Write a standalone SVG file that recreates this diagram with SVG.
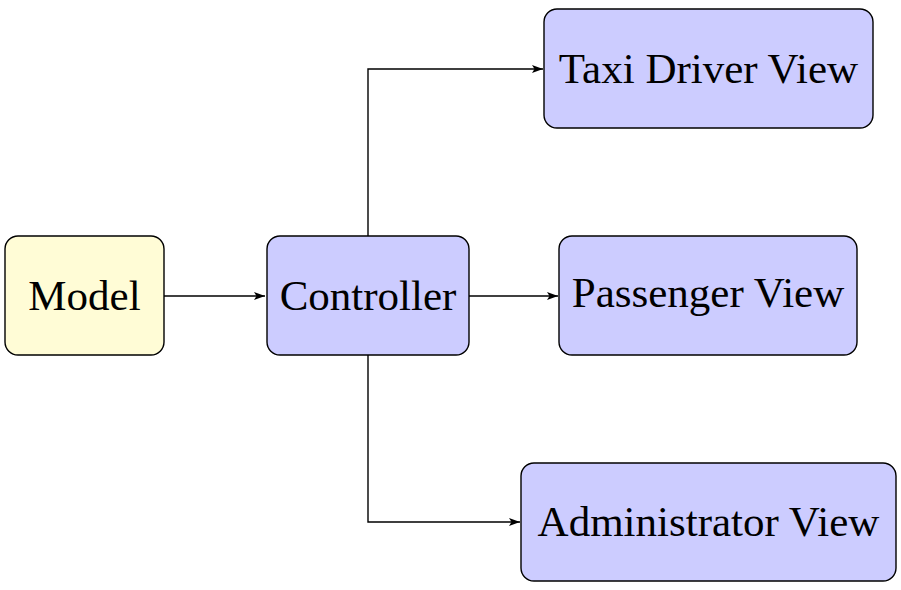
<svg xmlns="http://www.w3.org/2000/svg" width="901" height="590" viewBox="0 0 901 590">
<style>
.box{stroke:#000;stroke-width:1.4}
.blue{fill:#ccccff}
.yellow{fill:#fffcd6}
.lbl{font-family:"Liberation Serif","DejaVu Serif",serif;font-size:43px;fill:#000;text-anchor:middle}
.conn{fill:none;stroke:#000;stroke-width:1.4}
</style>
<defs>
<marker id="ah" markerWidth="12" markerHeight="8" refX="11" refY="4" orient="auto" markerUnits="userSpaceOnUse">
<path d="M0,0 L11,4 L0,8 L2.5,4 Z" fill="#000"/>
</marker>
</defs>
<rect width="901" height="590" fill="#fff"/>
<g id="connectors">
<path class="conn" d="M164,296 H265" marker-end="url(#ah)"/>
<path class="conn" d="M469,296 H558" marker-end="url(#ah)"/>
<path class="conn" d="M368,236 V69 H543" marker-end="url(#ah)"/>
<path class="conn" d="M368,355 V522 H520" marker-end="url(#ah)"/>
</g>
<g id="model">
<rect class="box yellow" x="5" y="236" width="159" height="119" rx="13"/>
<text class="lbl" x="84.5" y="310">Model</text>
</g>
<g id="controller">
<rect class="box blue" x="267" y="236" width="202" height="119" rx="13"/>
<text class="lbl" x="368" y="310">Controller</text>
</g>
<g id="taxi">
<rect class="box blue" x="544" y="9" width="329" height="119" rx="13"/>
<text class="lbl" x="708.5" y="83">Taxi Driver View</text>
</g>
<g id="passenger">
<rect class="box blue" x="559" y="236" width="298" height="119" rx="13"/>
<text class="lbl" x="708" y="307">Passenger View</text>
</g>
<g id="admin">
<rect class="box blue" x="521" y="463" width="375" height="118" rx="13"/>
<text class="lbl" x="708.5" y="536">Administrator View</text>
</g>
</svg>
